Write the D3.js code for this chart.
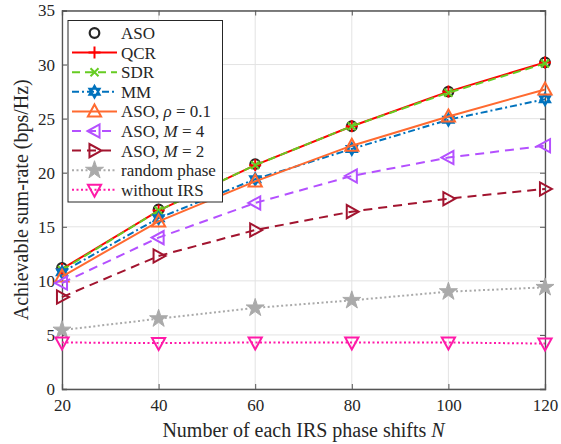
<!DOCTYPE html>
<html>
<head>
<meta charset="utf-8">
<script src="https://cdn.jsdelivr.net/npm/d3@7"></script>
<style>
  @font-face { font-family: 'ChartSerif'; font-style: normal; src: local('Liberation Serif'), local('LiberationSerif'), local('LiberationSerif-Regular'), local('DejaVu Serif'); }
  @font-face { font-family: 'ChartSerif'; font-style: italic; src: local('Liberation Serif Italic'), local('LiberationSerif-Italic'), local('DejaVu Serif Italic'); }
  text { font-family: 'Liberation Serif', 'ChartSerif', 'DejaVu Serif'; }
</style>
</head>
<body style="margin:0">
<svg id="chart" font-family="Liberation Serif"></svg>
<script>
const N = [20, 40, 60, 80, 100, 120]
const aso = [11.2, 16.6, 20.8, 24.3, 27.5, 30.2]
const qcr = [11.1, 16.5, 20.7, 24.3, 27.5, 30.2]
const sdr = [11.0, 16.5, 20.7, 24.3, 27.4, 30.1]
const mm = [10.8, 15.8, 19.4, 22.2, 24.9, 26.8]
const asoRho = [10.4, 15.5, 19.2, 22.5, 25.2, 27.7]
const asoM4 = [9.8, 14.0, 17.2, 19.7, 21.4, 22.5]
const asoM2 = [8.5, 12.3, 14.7, 16.4, 17.6, 18.5]
const randomPhase = [5.45, 6.5, 7.5, 8.2, 9.0, 9.4]
const withoutIRS = [4.3, 4.25, 4.3, 4.3, 4.3, 4.2]
const xTicks = [20, 40, 60, 80, 100, 120]
const yTicks = [0, 5, 10, 15, 20, 25, 30, 35]

const FONT = '"Liberation Serif", "ChartSerif", "DejaVu Serif"'

const series = [
    {name: 'ASO', values: aso, color: '#262626', dash: null, marker: 'circle', line: false},
    {name: 'QCR', values: qcr, color: '#ff0000', dash: null, marker: 'plus'},
    {name: 'SDR', values: sdr, color: '#66cc22', dash: '8,5', marker: 'cross'},
    {name: 'MM', values: mm, color: '#0072bd', dash: '7,3,2,3', marker: 'hexagram'},
    {name: 'ASO, ρ = 0.1', values: asoRho, color: '#ff6a30', dash: null, marker: 'triUp'},
    {name: 'ASO, M = 4', values: asoM4, color: '#b450ff', dash: '9,6', marker: 'triLeft'},
    {name: 'ASO, M = 2', values: asoM2, color: '#a2142f', dash: '9,6', marker: 'triRight'},
    {name: 'random phase', values: randomPhase, color: '#aaaaaa', dash: '2,2.5', marker: 'star'},
    {name: 'without IRS', values: withoutIRS, color: '#ff1aa8', dash: '2,2.5', marker: 'triDown'}
]

const W = 561, H = 444
const margin = {top: 10.5, right: 16, bottom: 55, left: 62}

const svg = d3.select('#chart').attr('width', W).attr('height', H)

const x = d3.scaleLinear().domain([20, 120]).range([margin.left, W - margin.right])
const y = d3.scaleLinear().domain([0, 35]).range([H - margin.bottom, margin.top])

// grid
svg.append('g').selectAll('line').data(xTicks).join('line')
    .attr('x1', d => x(d)).attr('x2', d => x(d))
    .attr('y1', y(0)).attr('y2', y(35))
    .attr('stroke', '#e3e3e3').attr('stroke-width', 1)
svg.append('g').selectAll('line').data(yTicks).join('line')
    .attr('x1', x(20)).attr('x2', x(120))
    .attr('y1', d => y(d)).attr('y2', d => y(d))
    .attr('stroke', '#e3e3e3').attr('stroke-width', 1)

// axes (box with inward ticks)
const axisColor = '#555'
const xAxis = svg.append('g').attr('transform', `translate(0,${y(0)})`)
    .call(d3.axisBottom(x).tickValues(xTicks).tickSize(-5).tickPadding(10))
const xTop = svg.append('g').attr('transform', `translate(0,${y(35)})`)
    .call(d3.axisTop(x).tickValues(xTicks).tickSize(-5).tickFormat(''))
const yAxis = svg.append('g').attr('transform', `translate(${x(20)},0)`)
    .call(d3.axisLeft(y).tickValues(yTicks).tickSize(-5).tickPadding(7))
const yRight = svg.append('g').attr('transform', `translate(${x(120)},0)`)
    .call(d3.axisRight(y).tickValues(yTicks).tickSize(-5).tickFormat(''))

;[xAxis, xTop, yAxis, yRight].forEach(g => {
    g.attr('font-family', 'Liberation Serif').attr('font-size', 17)
    g.select('.domain').attr('stroke', axisColor).attr('stroke-width', 1.3)
    g.selectAll('.tick line').attr('stroke', axisColor)
    g.selectAll('text').style('font-family', FONT)
        .style('font-size', '17px').attr('fill', '#262626')
})

// marker shapes
function markerPath(type, s) {
    switch (type) {
        case 'circle': return d3.symbol(d3.symbolCircle, s * s * 0.6)()
        case 'plus': return `M${-s/2},0H${s/2}M0,${-s/2}V${s/2}`
        case 'cross': return `M${-s/3},${-s/3}L${s/3},${s/3}M${-s/3},${s/3}L${s/3},${-s/3}`
        case 'triUp': return `M0,${-s*0.58}L${s*0.55},${s*0.42}L${-s*0.55},${s*0.42}Z`
        case 'triDown': return `M0,${s*0.58}L${s*0.55},${-s*0.42}L${-s*0.55},${-s*0.42}Z`
        case 'triLeft': return `M${-s*0.58},0L${s*0.42},${s*0.55}L${s*0.42},${-s*0.55}Z`
        case 'triRight': return `M${s*0.58},0L${-s*0.42},${s*0.55}L${-s*0.42},${-s*0.55}Z`
        case 'star': return d3.symbol(d3.symbolStar, s * s * 0.7)()
        case 'hexagram': {
            const r = s * 0.5
            const t1 = d3.range(3).map(i => [r * Math.sin(i * 2 * Math.PI / 3), -r * Math.cos(i * 2 * Math.PI / 3)])
            const t2 = d3.range(3).map(i => [r * Math.sin(i * 2 * Math.PI / 3 + Math.PI), -r * Math.cos(i * 2 * Math.PI / 3 + Math.PI)])
            return 'M' + t1.join('L') + 'Z' + 'M' + t2.join('L') + 'Z'
        }
    }
}

function drawMarker(g, s, cx, cy) {
    const p = g.append('path')
        .attr('transform', `translate(${cx},${cy})`)
        .attr('d', markerPath(s.marker, s.marker === 'circle' ? 11 : 12))
        .attr('stroke', s.color).attr('stroke-width', 2)
    if (s.marker === 'star') p.attr('fill', s.color).attr('stroke-width', 1)
    else if (s.marker === 'circle') p.attr('fill', 'none').attr('stroke-width', 2.2)
    else p.attr('fill', 'none')
}

const line = d3.line().x((d, i) => x(N[i])).y(d => y(d))

// drawn in legend order, later series on top
const plot = svg.append('g')
series.forEach(s => {
    const g = plot.append('g')
    if (s.line !== false) {
        g.append('path').datum(s.values)
            .attr('d', line)
            .attr('fill', 'none')
            .attr('stroke', s.color)
            .attr('stroke-width', 2)
            .attr('stroke-dasharray', s.dash)
    }
    s.values.forEach((v, i) => drawMarker(g, s, x(N[i]), y(v)))
})

// legend
const lg = svg.append('g')
lg.append('rect')
    .attr('x', 68).attr('y', 20.5).attr('width', 154.5).attr('height', 181.5)
    .attr('fill', '#fff').attr('stroke', '#262626').attr('stroke-width', 1)

series.forEach((s, i) => {
    const cy = 33 + i * 19.6
    const g = lg.append('g')
    if (s.line !== false) {
        g.append('line')
            .attr('x1', 72).attr('x2', 117).attr('y1', cy).attr('y2', cy)
            .attr('stroke', s.color).attr('stroke-width', 2)
            .attr('stroke-dasharray', s.dash)
    }
    drawMarker(g, s, 94.5, cy)
    const t = g.append('text')
        .attr('x', 121).attr('y', cy + 6)
        .attr('font-family', 'Liberation Serif')
        .style('font-family', FONT)
        .style('font-size', '17px').attr('fill', '#262626')
    if (s.name.includes('ρ')) {
        t.append('tspan').text('ASO, ')
        t.append('tspan').style('font-style', 'italic').text('ρ')
        t.append('tspan').text(' = 0.1')
    } else if (s.name.includes('M =')) {
        t.append('tspan').text('ASO, ')
        t.append('tspan').style('font-style', 'italic').text('M')
        t.append('tspan').text(s.name.slice(s.name.indexOf(' =')))
    } else {
        t.text(s.name)
    }
})

// axis labels
const xl = svg.append('text')
    .attr('x', (x(20) + x(120)) / 2).attr('y', 437)
    .attr('text-anchor', 'middle')
    .attr('font-family', 'Liberation Serif')
    .style('font-family', FONT)
    .style('font-size', '20px').attr('fill', '#262626')
xl.append('tspan').text('Number of each IRS phase shifts ')
xl.append('tspan').style('font-style', 'italic').text('N')

svg.append('text')
    .attr('transform', `translate(28,${(y(0) + y(35)) / 2}) rotate(-90)`)
    .attr('text-anchor', 'middle')
    .attr('font-family', 'Liberation Serif')
    .style('font-family', FONT)
    .style('font-size', '20px').attr('fill', '#262626')
    .text('Achievable sum-rate (bps/Hz)')
</script>
</body>
</html>
